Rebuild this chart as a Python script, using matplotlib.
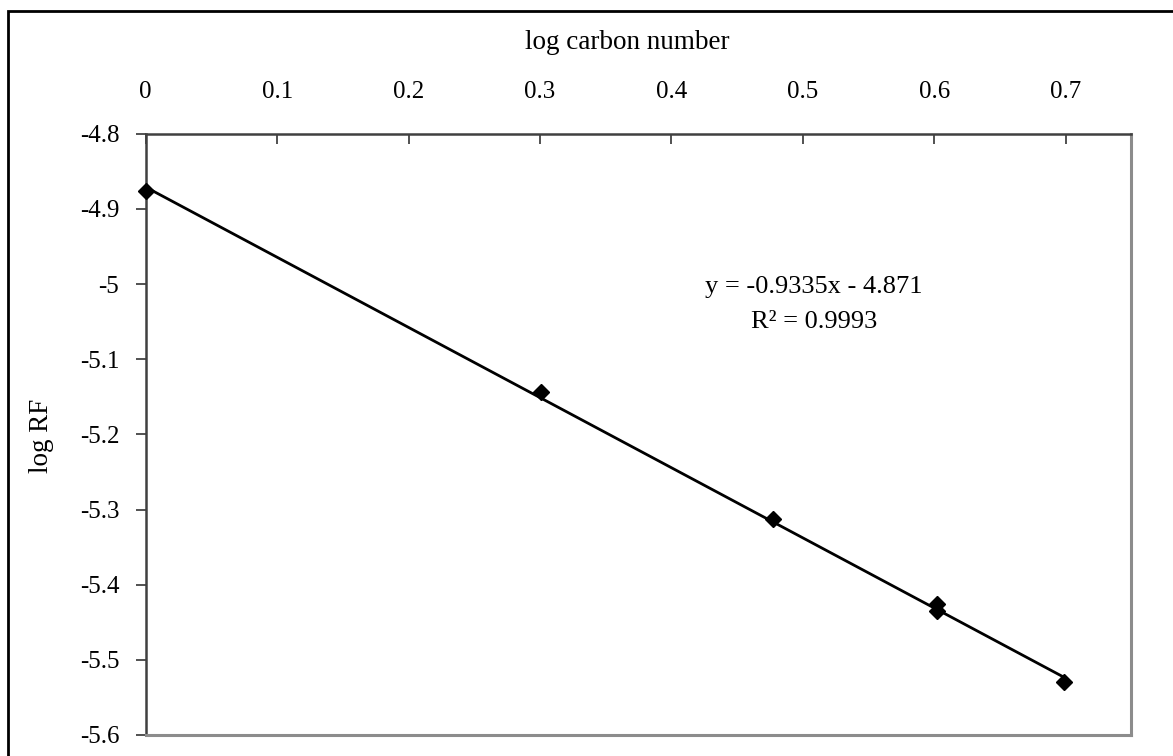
import numpy as np
import matplotlib
matplotlib.use("Agg")
import matplotlib.pyplot as plt
from matplotlib.patches import Rectangle

plt.rcParams['font.family'] = ['Liberation Serif', 'DejaVu Serif']

# data
log_carbon = [0.0, 0.301, 0.477, 0.602, 0.602, 0.699]
log_rf = [-4.876, -5.144, -5.312, -5.426, -5.435, -5.530]
x_ticks = [0, 0.1, 0.2, 0.3, 0.4, 0.5, 0.6, 0.7]
y_ticks = [-4.8, -4.9, -5.0, -5.1, -5.2, -5.3, -5.4, -5.5, -5.6]
y_tick_labels = ['-4.8', '-4.9', '-5', '-5.1', '-5.2', '-5.3', '-5.4', '-5.5', '-5.6']
slope = -0.9335
intercept = -4.871
r2 = 0.9993

fig = plt.figure(figsize=(11.73, 7.56), dpi=100)
ax = fig.add_axes([0.1242, 0.0278, 0.8404, 0.7953])

# trendline over data range
xs = np.array([min(log_carbon), max(log_carbon)])
ax.plot(xs, slope * xs + intercept, color='black', lw=2, zorder=2)
ax.plot(log_carbon, log_rf, linestyle='none', marker='D', ms=8.5,
        color='black', zorder=3, clip_on=False)

ax.set_xlim(0, 0.75)
ax.set_ylim(-5.6, -4.8)
ax.set_xticks(x_ticks)
ax.set_xticklabels([f'{t:g}' for t in x_ticks])
ax.set_yticks(y_ticks)
ax.set_yticklabels(y_tick_labels)

ax.xaxis.tick_top()
ax.tick_params(axis='x', direction='in', length=7, width=1.2, pad=22,
               labelsize=18, color='#333333')
ax.tick_params(axis='y', direction='out', length=7, width=1.2, pad=12,
               labelsize=18, color='#333333')

ax.spines['left'].set_color('#404040')
ax.spines['top'].set_color('#404040')
ax.spines['left'].set_linewidth(1.8)
ax.spines['top'].set_linewidth(1.8)
ax.spines['right'].set_color('#8c8c8c')
ax.spines['bottom'].set_color('#8c8c8c')
ax.spines['right'].set_linewidth(2.2)
ax.spines['bottom'].set_linewidth(2.2)

ax.set_xlabel('log carbon number', fontsize=19.5)
ax.xaxis.set_label_position('top')
ax.xaxis.set_label_coords(0.489, 1.151)
ax.xaxis.label.set_va('center')

ax.set_ylabel('log RF', fontsize=19.5)
ax.yaxis.set_label_coords(-0.1055, 0.497)
ax.yaxis.label.set_va('center')

ax.text(0.678, 0.7456, f'y = {slope}x - {abs(intercept)}', transform=ax.transAxes,
        ha='center', va='center', fontsize=19)
ax.text(0.678, 0.6874, f'R² = {r2}', transform=ax.transAxes,
        ha='center', va='center', fontsize=19)

# outer chart border (cropped at right and bottom)
fig.patches.append(Rectangle((8 / 1173, -0.1), 1.2, 1.1 - 11 / 756,
                             transform=fig.transFigure, fill=False,
                             lw=2, edgecolor='black'))

fig.savefig('out.png', dpi=100)
